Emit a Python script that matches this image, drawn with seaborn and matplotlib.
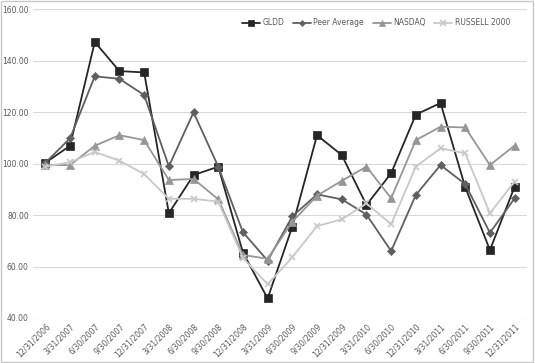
import matplotlib
matplotlib.use("Agg")
import matplotlib.pyplot as plt
import seaborn as sns
import pandas as pd
import numpy as np
from matplotlib.patches import Rectangle

dates = ["12/31/2006", "3/31/2007", "6/30/2007", "9/30/2007", "12/31/2007",
         "3/31/2008", "6/30/2008", "9/30/2008", "12/31/2008", "3/31/2009",
         "6/30/2009", "9/30/2009", "12/31/2009", "3/31/2010", "6/30/2010",
         "12/31/2010", "3/31/2011", "6/30/2011", "9/30/2011", "12/31/2011"]

gldd = [100.3, 106.9, 147.2, 135.9, 135.4, 80.7, 95.5, 98.8, 65.4, 47.6,
        75.5, 111.0, 103.3, 83.9, 96.2, 119.0, 123.5, 90.8, 66.4, 91.0]
peer = [100.3, 109.8, 133.9, 132.9, 126.6, 98.9, 119.9, 98.8, 73.3, 62.3,
        79.5, 88.0, 86.1, 80.2, 66.0, 87.8, 99.4, 92.0, 73.1, 86.5]
nasdaq = [99.4, 99.4, 106.9, 111.0, 109.1, 93.6, 94.0, 86.1, 64.5, 63.0,
          77.4, 87.5, 93.3, 98.8, 86.5, 109.1, 114.3, 114.0, 99.4, 107.0]
russell = [98.8, 100.5, 104.5, 101.1, 95.9, 86.3, 86.3, 85.2, 63.3, 53.1,
           63.6, 75.7, 78.3, 84.5, 76.4, 98.8, 105.9, 104.0, 80.7, 93.0]

series_names = ["GLDD", "Peer Average", "NASDAQ", "RUSSELL 2000"]
series_values = [gldd, peer, nasdaq, russell]
yticks = [40, 60, 80, 100, 120, 140, 160]

colors = {"GLDD": "#262626", "Peer Average": "#5f5f5f",
          "NASDAQ": "#969696", "RUSSELL 2000": "#c8c8c8"}
markers = {"GLDD": "s", "Peer Average": "D", "NASDAQ": "^", "RUSSELL 2000": "x"}
msizes = {"GLDD": 5.5, "Peer Average": 4.0, "NASDAQ": 5.5, "RUSSELL 2000": 5.0}

rows = []
for name, vals in zip(series_names, series_values):
    for i, v in enumerate(vals):
        rows.append({"pos": i, "value": v, "series": name})
df = pd.DataFrame(rows)

sns.set_theme(style="white")
plt.rcParams['font.family'] = ['DejaVu Sans']

fig = plt.figure(figsize=(5.35, 3.63), dpi=100)
ax = fig.add_axes([0.0617, 0.124, 0.9233, 0.851])

for name in series_names:
    sub = df[df["series"] == name]
    sns.lineplot(data=sub, x="pos", y="value", ax=ax, color=colors[name],
                 marker=markers[name], markersize=msizes[name],
                 markeredgecolor=colors[name], markerfacecolor=colors[name],
                 markeredgewidth=1.2 if name == "RUSSELL 2000" else 0.5,
                 linewidth=1.3, label=name)

ax.set_xlim(-0.5, len(dates) - 0.5)
ax.set_ylim(40, 160)
ax.set_yticks(yticks)
ax.set_yticklabels([f"{v:.2f}" for v in yticks], fontsize=5.5, color="#595959")
ax.set_xticks(range(len(dates)))
ax.set_xticklabels(dates, rotation=45, ha="right", rotation_mode="anchor",
                   fontsize=5.5, color="#595959")
ax.tick_params(axis="both", length=0, pad=3)
ax.grid(axis="y", color="#d9d9d9", linewidth=0.8)
ax.set_axisbelow(True)
for s in ax.spines.values():
    s.set_visible(False)
ax.set_xlabel("")
ax.set_ylabel("")

leg = ax.legend(loc="upper right", bbox_to_anchor=(0.975, 0.985), ncol=4,
                frameon=False, fontsize=5.5, handlelength=2.4, markerscale=0.75,
                columnspacing=1.1, handletextpad=0.3, borderaxespad=0.2)
for t in leg.get_texts():
    t.set_color("#595959")

fig.patches.append(Rectangle((0.002, 0.003), 0.995, 0.994, transform=fig.transFigure,
                             fill=False, edgecolor="#c8c8c8", linewidth=1.0))

fig.savefig("out.png", dpi=100)
